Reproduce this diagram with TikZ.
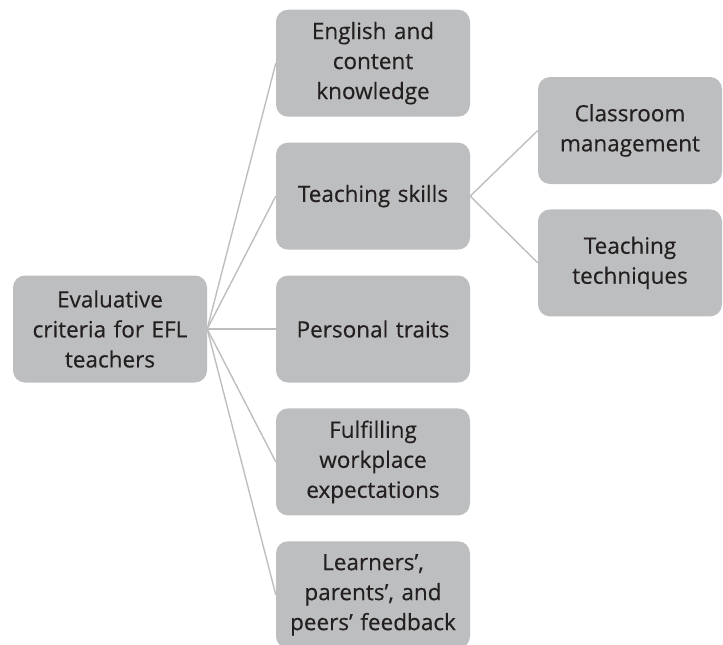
\documentclass[tikz,border=0pt]{standalone}
\usepackage{fontspec}
\setmainfont[FakeBold=0.4]{Open Sans}
\usetikzlibrary{positioning}
\definecolor{boxgray}{HTML}{BDBEC0}
\definecolor{linegray}{HTML}{BEBEBE}
\definecolor{textgray}{HTML}{231F20}
\tikzset{
  box/.style={rectangle, rounded corners=12pt, fill=boxgray, text=textgray, minimum width=194pt, minimum height=107pt, text width=190pt, align=center, inner sep=0pt, font=\fontsize{22.5}{30}\selectfont},
  subbox/.style={box, minimum width=184pt, text width=182pt},
  link/.style={draw=linegray, line width=1.4pt}
}

\begin{document}
\begin{tikzpicture}[x=1pt, y=-1pt]
  \useasboundingbox (0,0) rectangle (723,645);
  % Nodes
  \node[box] (root) at (110,329) {Evaluative\\criteria for EFL\\teachers};
  \node[box] (pers) at (373,329) {Personal traits};
  \node[box, above=25.5pt of pers] (skills) {Teaching skills};
  \node[box, above=25.5pt of skills] (know) {English and\\content\\knowledge};
  \node[box, below=25.5pt of pers] (work) {Fulfilling\\workplace\\expectations};
  \node[box, below=25.5pt of work] (feedback) {Learners’,\\parents’, and\\peers’ feedback};
  \node[subbox] (manage) at (630,130.5) {Classroom\\management};
  \node[subbox, below=25pt of manage] (tech) {Teaching\\techniques};

  % Connectors
  \foreach \n in {know,skills,pers,work,feedback}
    \draw[link] (root.east) -- (\n.west);
  \foreach \n in {manage,tech}
    \draw[link] (skills.east) -- (\n.west);
\end{tikzpicture}
\end{document}
